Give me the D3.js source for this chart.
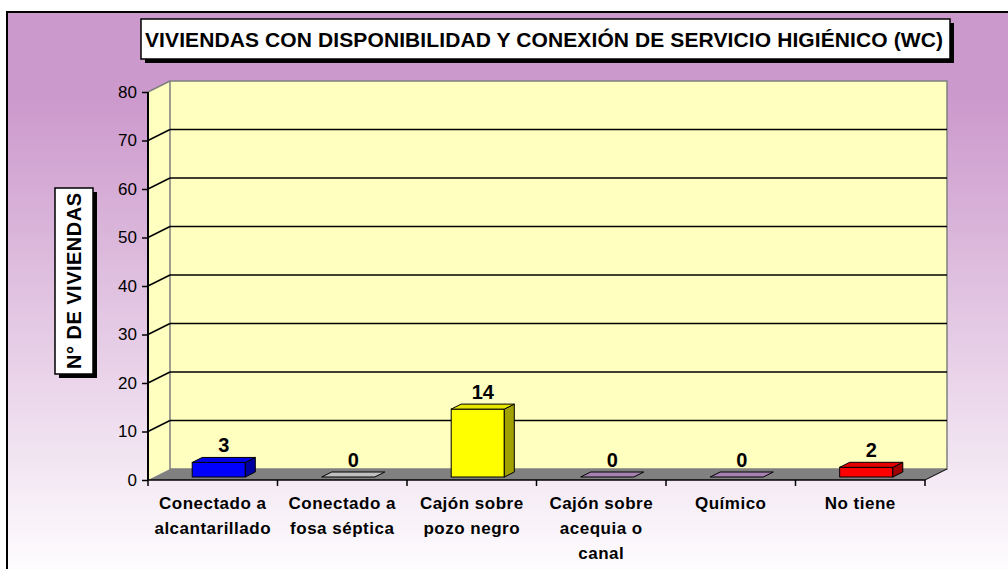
<!DOCTYPE html>
<html>
<head>
<meta charset="utf-8">
<script src="https://cdn.jsdelivr.net/npm/d3@7"></script>
<style>
  body { margin: 0; background: #fff; }
  text { font-family: Arial, "Liberation Sans", sans-serif; fill: #000; }
</style>
</head>
<body>
<svg width="1008" height="569"></svg>
<script>
var categories = [
  ["Conectado a", "alcantarillado"],
  ["Conectado a", "fosa séptica"],
  ["Cajón sobre", "pozo negro"],
  ["Cajón sobre", "acequia o", "canal"],
  ["Químico"],
  ["No tiene"]
];
var values = [3, 0, 14, 0, 0, 2];
var barColors = ["#0000FF", "#C0C0C0", "#FFFF00", "#A682B0", "#A682B0", "#FF0000"];
var yTicks = [0, 10, 20, 30, 40, 50, 60, 70, 80];
var title = "VIVIENDAS CON DISPONIBILIDAD Y CONEXIÓN DE SERVICIO HIGIÉNICO (WC)";
var yTitle = "N° DE VIVIENDAS";

var svg = d3.select("svg");

// background gradient
var defs = svg.append("defs");
var grad = defs.append("linearGradient").attr("id", "bg")
  .attr("x1", 0).attr("y1", 0).attr("x2", 0).attr("y2", 1);
grad.append("stop").attr("offset", "0%").attr("stop-color", "#CC99CC");
grad.append("stop").attr("offset", "15%").attr("stop-color", "#CC99CC");
grad.append("stop").attr("offset", "100%").attr("stop-color", "#FFFFFF");

svg.append("rect")
  .attr("x", 7).attr("y", 12).attr("width", 1010).attr("height", 570)
  .attr("fill", "url(#bg)")
  .attr("stroke", "#000").attr("stroke-width", 2);

// 3d geometry
var depthX = 22, depthY = -11;
var x = d3.scaleBand().domain(d3.range(categories.length)).range([148, 925]).padding(0);
var y = d3.scaleLinear().domain([0, 80]).range([480, 92]);

var wall = "#FFFFC0";
var g = svg.append("g");

// side wall
g.append("polygon")
  .attr("points", [[148, y(80)], [148 + depthX, y(80) + depthY], [148 + depthX, y(0) + depthY], [148, y(0)]].join(" "))
  .attr("fill", wall);

// back wall
g.append("rect")
  .attr("x", 148 + depthX).attr("y", y(80) + depthY)
  .attr("width", 925 - 148).attr("height", y(0) - y(80))
  .attr("fill", wall).attr("stroke", "#808080").attr("stroke-width", 1.5);

// side wall top edge
g.append("line")
  .attr("x1", 148).attr("y1", y(80)).attr("x2", 148 + depthX).attr("y2", y(80) + depthY)
  .attr("stroke", "#808080").attr("stroke-width", 1.5);

// gridlines
var grid = yTicks.filter(function(d) { return d > 0 && d < 80; });
g.selectAll(".grid").data(grid).enter().append("line")
  .attr("x1", 148 + depthX).attr("x2", 925 + depthX)
  .attr("y1", function(d) { return y(d) + depthY; })
  .attr("y2", function(d) { return y(d) + depthY; })
  .attr("stroke", "#000").attr("stroke-width", 1.5);
g.selectAll(".gridside").data(grid).enter().append("line")
  .attr("x1", 148).attr("x2", 148 + depthX)
  .attr("y1", function(d) { return y(d); })
  .attr("y2", function(d) { return y(d) + depthY; })
  .attr("stroke", "#000").attr("stroke-width", 1.5);

// floor
g.append("polygon")
  .attr("points", [[148, y(0)], [148 + depthX, y(0) + depthY], [925 + depthX, y(0) + depthY], [925, y(0)]].join(" "))
  .attr("fill", "#808080");
g.append("line")
  .attr("x1", 925).attr("y1", y(0)).attr("x2", 925 + depthX).attr("y2", y(0) + depthY)
  .attr("stroke", "#000").attr("stroke-width", 1);

// bars
var bw = x.bandwidth() * 0.41;
var offX = 6, offY = -3, bdx = 10, bdy = -5;
var bars = g.selectAll(".bar").data(values).enter().append("g");
bars.each(function(v, i) {
  var el = d3.select(this);
  var c = d3.color(barColors[i]);
  var x0 = x(i) + x.bandwidth() / 2 - bw / 2 + offX, x1 = x0 + bw;
  var yb = y(0) + offY, yt = y(v) + offY;
  if (v > 0) {
    el.append("rect").attr("x", x0).attr("y", yt).attr("width", bw).attr("height", yb - yt)
      .attr("fill", c).attr("stroke", "#000").attr("stroke-width", 1);
    el.append("polygon")
      .attr("points", [[x1, yt], [x1 + bdx, yt + bdy], [x1 + bdx, yb + bdy], [x1, yb]].join(" "))
      .attr("fill", c.darker(1.3)).attr("stroke", "#000").attr("stroke-width", 1);
  }
  el.append("polygon")
    .attr("points", [[x0, yt], [x0 + bdx, yt + bdy], [x1 + bdx, yt + bdy], [x1, yt]].join(" "))
    .attr("fill", v > 0 ? c.darker(0.3) : c).attr("stroke", "#000").attr("stroke-width", 1);
  el.append("text")
    .attr("x", x(i) + x.bandwidth() / 2 + offX + bdx / 2)
    .attr("y", yt + bdy - 5)
    .attr("text-anchor", "middle")
    .style("font-size", "20px").style("font-weight", "bold")
    .text(v);
});

// y axis
var yAxis = d3.axisLeft(y).tickValues(yTicks).tickSize(6).tickPadding(5);
var ya = svg.append("g").attr("transform", "translate(148,0)").call(yAxis);
ya.select(".domain").attr("stroke", "#000").attr("stroke-width", 2).attr("d", "M0," + y(80) + "V" + y(0));
ya.selectAll(".tick line").attr("stroke", "#000").attr("stroke-width", 1.5);
ya.selectAll(".tick text").style("font-size", "17px").style("font-family", "Arial, 'Liberation Sans', sans-serif").attr("fill", "#000");

// x axis
svg.append("line").attr("x1", 148).attr("x2", 925).attr("y1", y(0)).attr("y2", y(0))
  .attr("stroke", "#000").attr("stroke-width", 1.5);
svg.selectAll(".xtick").data(d3.range(categories.length + 1)).enter().append("line")
  .attr("x1", function(d) { return 148 + d * x.step(); })
  .attr("x2", function(d) { return 148 + d * x.step(); })
  .attr("y1", y(0)).attr("y2", y(0) + 6)
  .attr("stroke", "#000").attr("stroke-width", 1.5);

var labels = svg.selectAll(".xl").data(categories).enter().append("text")
  .attr("text-anchor", "middle")
  .style("font-size", "17px").style("font-weight", "bold").style("letter-spacing", "0.5px");
labels.each(function(lines, i) {
  var t = d3.select(this);
  lines.forEach(function(s, j) {
    t.append("tspan").attr("x", x(i) + x.bandwidth() / 2).attr("y", 509 + j * 25).text(s);
  });
});

// title box
svg.append("rect").attr("x", 145).attr("y", 23).attr("width", 809).attr("height", 40).attr("fill", "#000");
svg.append("rect").attr("x", 141).attr("y", 19).attr("width", 809).attr("height", 40)
  .attr("fill", "#fff").attr("stroke", "#000").attr("stroke-width", 1.5);
svg.append("text").attr("x", 544).attr("y", 47).attr("text-anchor", "middle")
  .attr("textLength", 798).attr("lengthAdjust", "spacing")
  .style("font-size", "21px").style("font-weight", "bold").text(title);

// y title box
svg.append("rect").attr("x", 59).attr("y", 192).attr("width", 38).attr("height", 186).attr("fill", "#000");
svg.append("rect").attr("x", 55).attr("y", 188).attr("width", 38).attr("height", 186)
  .attr("fill", "#fff").attr("stroke", "#000").attr("stroke-width", 1.5);
svg.append("text").attr("transform", "translate(81,281) rotate(-90)")
  .attr("text-anchor", "middle")
  .attr("textLength", 176).attr("lengthAdjust", "spacing")
  .style("font-size", "20px").style("font-weight", "bold").text(yTitle);
</script>
</body>
</html>
